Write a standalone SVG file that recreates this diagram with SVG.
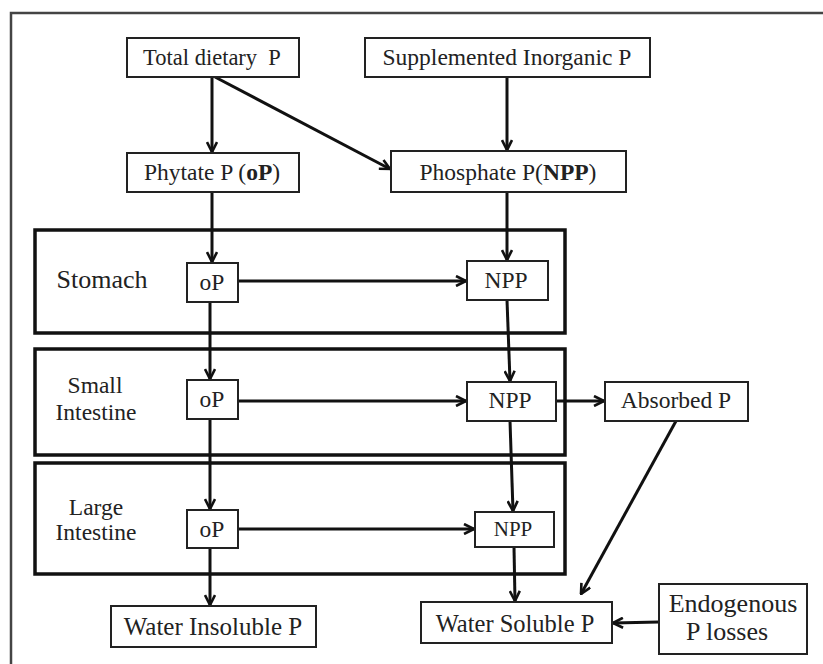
<svg xmlns="http://www.w3.org/2000/svg" width="823" height="664" viewBox="0 0 823 664">
<defs>
<marker id="ah" viewBox="0 0 12 12" refX="11" refY="6" markerWidth="12" markerHeight="12" markerUnits="userSpaceOnUse" orient="auto">
<path d="M1,1 L11,6 L1,11" fill="none" stroke="#111" stroke-width="2.6"/>
</marker>
</defs>
<style>
.box{fill:#fff;stroke:#222;stroke-width:2}
.zone{fill:none;stroke:#111;stroke-width:3.5}
.t{font-family:'Liberation Serif','DejaVu Serif',serif;font-size:23.5px;fill:#222;text-anchor:middle}
.c{stroke:#111;stroke-width:3;fill:none;marker-end:url(#ah)}
</style>
<rect x="0" y="0" width="823" height="664" fill="#fff"/>
<rect x="11" y="13" width="830" height="670" fill="none" stroke="#444" stroke-width="2.5"/>
<g id="zones">
<rect class="zone" x="35" y="230" width="530" height="103"/>
<rect class="zone" x="35" y="349" width="530" height="106"/>
<rect class="zone" x="35" y="463" width="530" height="111"/>
<text class="t" x="102" y="288" style="font-size:26px">Stomach</text>
<text class="t" x="95" y="393">Small</text>
<text class="t" x="96" y="420">Intestine</text>
<text class="t" x="96" y="515">Large</text>
<text class="t" x="96" y="540">Intestine</text>
</g>
<g id="connectors">
<line class="c" x1="212" y1="77" x2="212" y2="152"/>
<line class="c" x1="215" y1="77" x2="390" y2="169"/>
<line class="c" x1="507" y1="77" x2="507" y2="150"/>
<line class="c" x1="212" y1="192" x2="212" y2="262"/>
<line class="c" x1="507" y1="192" x2="507" y2="260"/>
<line class="c" x1="238" y1="281" x2="466" y2="281"/>
<line class="c" x1="210" y1="302" x2="210" y2="379"/>
<line class="c" x1="507" y1="300" x2="510" y2="381"/>
<line class="c" x1="238" y1="401" x2="466" y2="401"/>
<line class="c" x1="556" y1="401" x2="604" y2="401"/>
<line class="c" x1="210" y1="419" x2="210" y2="509"/>
<line class="c" x1="510" y1="421" x2="513" y2="511"/>
<line class="c" x1="238" y1="529" x2="474" y2="529"/>
<line class="c" x1="210" y1="548" x2="210" y2="605"/>
<line class="c" x1="514" y1="547" x2="515" y2="601"/>
<line class="c" x1="676" y1="421" x2="581" y2="594"/>
<line class="c" x1="659" y1="622" x2="613" y2="623"/>
</g>
<g id="total"><rect class="box" x="127" y="38" width="172" height="39"/><text class="t" x="212" y="65" style="font-size:22.5px" xml:space="preserve">Total dietary  P</text></g>
<g id="supp"><rect class="box" x="365" y="38" width="285" height="39"/><text class="t" x="507" y="65">Supplemented Inorganic P</text></g>
<g id="phytate"><rect class="box" x="127" y="153" width="172" height="39"/><text class="t" x="212" y="180">Phytate P (<tspan font-weight="bold">oP</tspan>)</text></g>
<g id="phosphate"><rect class="box" x="391" y="151" width="235" height="41"/><text class="t" x="508" y="180">Phosphate P(<tspan font-weight="bold">NPP</tspan>)</text></g>
<g id="op1"><rect class="box" x="187" y="263" width="51" height="39"/><text class="t" x="212" y="290">oP</text></g>
<g id="npp1"><rect class="box" x="467" y="261" width="81" height="39"/><text class="t" x="506" y="288">NPP</text></g>
<g id="op2"><rect class="box" x="187" y="380" width="51" height="39"/><text class="t" x="212" y="407">oP</text></g>
<g id="npp2"><rect class="box" x="467" y="382" width="89" height="39"/><text class="t" x="510" y="408">NPP</text></g>
<g id="absorbed"><rect class="box" x="605" y="382" width="143" height="39"/><text class="t" x="676" y="408">Absorbed P</text></g>
<g id="op3"><rect class="box" x="187" y="510" width="51" height="38"/><text class="t" x="212" y="537">oP</text></g>
<g id="npp3"><rect class="box" x="475" y="512" width="79" height="35"/><text class="t" x="513" y="536" style="font-size:21px">NPP</text></g>
<g id="insol"><rect class="box" x="111" y="606" width="205" height="41"/><text class="t" x="213" y="635" style="font-size:25px">Water Insoluble P</text></g>
<g id="sol"><rect class="box" x="421" y="602" width="191" height="41"/><text class="t" x="515" y="632" style="font-size:24.5px">Water Soluble P</text></g>
<g id="endo"><rect class="box" x="659" y="584" width="148" height="70"/><text class="t" x="733" y="612" style="font-size:26px">Endogenous</text><text class="t" x="727" y="640" style="font-size:26px">P losses</text></g>
</svg>
